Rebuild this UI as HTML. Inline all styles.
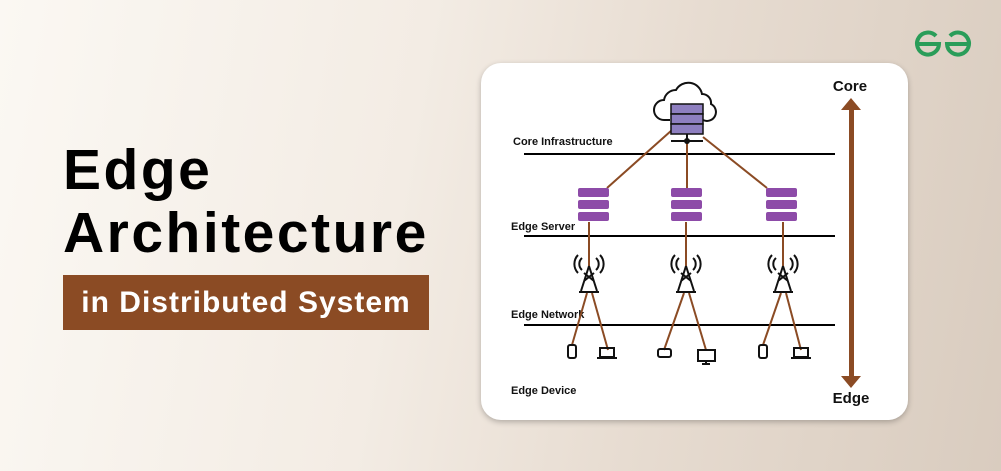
<!DOCTYPE html>
<html><head><style>
body{margin:0;width:1001px;height:471px;overflow:hidden;font-family:"Liberation Sans",sans-serif;}
.bg{position:absolute;left:0;top:0;width:1001px;height:471px;background:linear-gradient(100deg,#fbf8f3 0%,#f3ece4 40%,#e7dcd1 65%,#d9ccbf 100%);}
.t{position:absolute;left:63px;font-weight:bold;color:#000;font-size:57px;letter-spacing:2.5px;line-height:66px;}
.box{position:absolute;left:63px;top:275px;width:366px;height:55px;background:#8b4b24;color:#fff;font-size:30px;font-weight:bold;line-height:55px;text-align:center;letter-spacing:1px;}
.card{position:absolute;left:481px;top:63px;width:427px;height:357px;background:#fff;border-radius:20px;box-shadow:0 2px 6px rgba(0,0,0,.25);}
</style></head><body>
<div class="bg"></div>
<div class="t" style="top:137px">Edge</div>
<div class="t" style="top:200px">Architecture</div>
<div class="box">in Distributed System</div>
<svg style="position:absolute;left:912px;top:30px" width="62" height="28" viewBox="0 0 62 28">
<g fill="none" stroke="#2a9d59" stroke-width="4"><path d="M4 14h23a11 11 0 1 1-3-8"/><path d="M58 14H35a11 11 0 1 0 3-8"/></g></svg>
<div class="card"></div>
<svg style="position:absolute;left:0;top:0" width="1001" height="471" font-family="Liberation Sans,sans-serif">
<g stroke="#000" stroke-width="2"><line x1="524" y1="154" x2="835" y2="154"/><line x1="524" y1="236" x2="835" y2="236"/><line x1="524" y1="325" x2="835" y2="325"/></g>
<g font-size="11" font-weight="bold" fill="#111"><text x="513" y="145">Core Infrastructure</text><text x="511" y="230">Edge Server</text><text x="511" y="318">Edge Network</text><text x="511" y="394">Edge Device</text></g>
<g stroke="#8b4b24" stroke-width="2" fill="none">
<line x1="672" y1="130" x2="607" y2="188"/><line x1="687" y1="140" x2="687" y2="188"/><line x1="703" y1="137" x2="767" y2="188"/>
<line x1="589" y1="222" x2="589" y2="268"/><line x1="686" y1="222" x2="686" y2="268"/><line x1="783" y1="222" x2="783" y2="268"/>
<line x1="587" y1="293" x2="572" y2="345"/><line x1="592" y1="293" x2="608" y2="350"/>
<line x1="684" y1="293" x2="664" y2="350"/><line x1="689" y1="293" x2="706" y2="350"/>
<line x1="781" y1="293" x2="763" y2="345"/><line x1="786" y1="293" x2="801" y2="350"/>
</g>
<path d="M670 120h-6a10 10 0 0 1 0-20a12 12 0 0 1 12-10a14 14 0 0 1 26 4a9 9 0 0 1 9 10a8 8 0 0 1-8 16h-4" fill="#fff" stroke="#111" stroke-width="2"/>
<g stroke="#111" stroke-width="1.5" fill="#8e7fc0"><rect x="671" y="104" width="32" height="10"/><rect x="671" y="114" width="32" height="10"/><rect x="671" y="124" width="32" height="10"/></g>
<g stroke="#111" stroke-width="2"><line x1="687" y1="134" x2="687" y2="141"/><line x1="671" y1="141" x2="703" y2="141"/></g><circle cx="687" cy="141" r="3" fill="#111"/>
<g fill="#8d4ba8">
<rect x="578" y="188" width="31" height="9" rx="2"/><rect x="578" y="200" width="31" height="9" rx="2"/><rect x="578" y="212" width="31" height="9" rx="2"/>
<rect x="671" y="188" width="31" height="9" rx="2"/><rect x="671" y="200" width="31" height="9" rx="2"/><rect x="671" y="212" width="31" height="9" rx="2"/>
<rect x="766" y="188" width="31" height="9" rx="2"/><rect x="766" y="200" width="31" height="9" rx="2"/><rect x="766" y="212" width="31" height="9" rx="2"/>
</g>
<g stroke="#111" stroke-width="2" fill="none">
<g id="tw"><path d="M589 266l-8 25M589 266l8 25M584 281l10-8M594 281l-10-8M579 292h20"/><path d="M582 258a8 8 0 0 0 0 12M596 258a8 8 0 0 1 0 12M578 255a13 13 0 0 0 0 18M600 255a13 13 0 0 1 0 18"/></g>
<use href="#tw" x="97"/><use href="#tw" x="194"/>
<rect x="568" y="345" width="8" height="13" rx="2"/><path d="M600 348h14v9h-14zM597 358h20"/>
<rect x="658" y="349" width="13" height="8" rx="2"/><rect x="698" y="350" width="17" height="11"/><path d="M706 361v3M702 364h8"/>
<rect x="759" y="345" width="8" height="13" rx="2"/><path d="M794 348h14v9h-14zM791 358h20"/>
</g>
<g fill="#8b4b24"><rect x="849" y="108" width="5" height="270"/><path d="M841 110l10-12 10 12zM841 376l10 12 10-12z"/></g>
<g font-size="15" font-weight="bold" fill="#111" text-anchor="middle"><text x="850" y="91">Core</text><text x="851" y="403">Edge</text></g>
</svg>
</body></html>
